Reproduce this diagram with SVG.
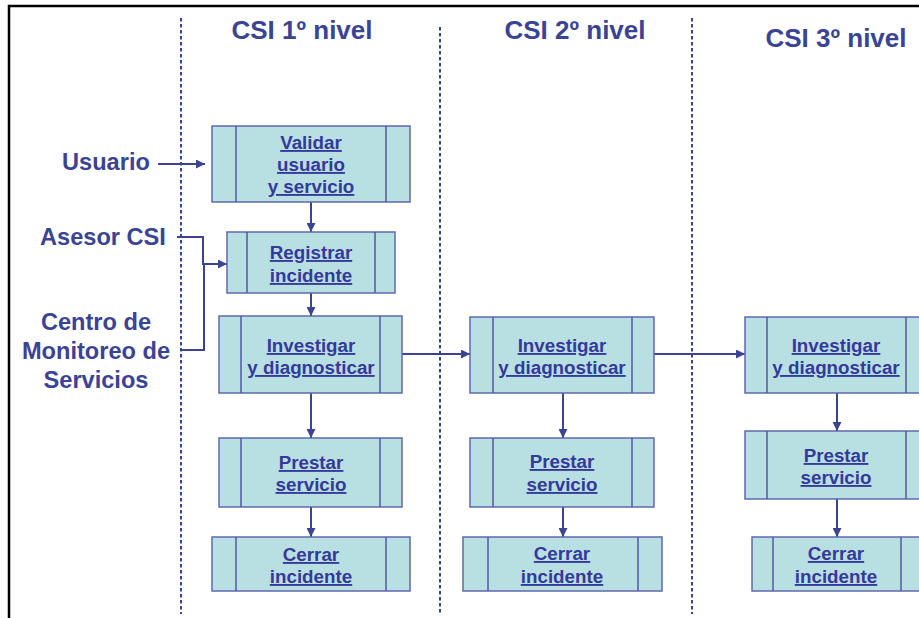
<svg xmlns="http://www.w3.org/2000/svg" width="919" height="618" viewBox="0 0 919 618">
  <defs>
    <marker id="arrow" viewBox="0 0 10 10" refX="10" refY="5" markerWidth="9" markerHeight="9" markerUnits="userSpaceOnUse" orient="auto">
      <path d="M0,0 L10,5 L0,10 Z" fill="#3b4393"/>
    </marker>
    <style>
      .frame { fill: none; stroke: #000; stroke-width: 2.5; }
      .lane { fill: none; stroke: #3b4393; stroke-width: 2; stroke-dasharray: 3.5 2.5; }
      .title { font-family: "Liberation Sans", Arial, sans-serif; font-weight: bold; font-size: 26px; fill: #3b4393; text-anchor: middle; }
      .actor { font-family: "Liberation Sans", Arial, sans-serif; font-weight: bold; font-size: 23.6px; fill: #3b4393; }
      .box { fill: #b8e0e2; stroke: #6068ad; stroke-width: 1.5; }
      .bar { fill: none; stroke: #5058a3; stroke-width: 1.5; }
      .label { font-family: "Liberation Sans", Arial, sans-serif; font-weight: bold; font-size: 18.8px; fill: #35399a; text-anchor: middle; text-decoration: underline; }
      .conn { fill: none; stroke: #3b4393; stroke-width: 2; }
    </style>
  </defs>

  <rect width="919" height="618" fill="#fff"/>

  <!-- outer frame -->
  <path class="frame" d="M9,618 V6 H919"/>

  <!-- swimlane separators -->
  <g id="lanes">
    <line class="lane" x1="181" y1="18" x2="181" y2="614"/>
    <line class="lane" x1="440" y1="27" x2="440" y2="614"/>
    <line class="lane" x1="692" y1="18" x2="692" y2="614"/>
  </g>

  <!-- lane titles -->
  <g id="titles">
    <text class="title" x="302" y="39">CSI 1º nivel</text>
    <text class="title" x="575" y="39">CSI 2º nivel</text>
    <text class="title" x="836" y="47">CSI 3º nivel</text>
  </g>

  <!-- actors -->
  <g id="actor-usuario">
    <text class="actor" x="62" y="170">Usuario</text>
  </g>
  <g id="actor-asesor">
    <text class="actor" x="40" y="245">Asesor CSI</text>
  </g>
  <g id="actor-centro">
    <text class="actor" x="96" y="330" text-anchor="middle">Centro de</text>
    <text class="actor" x="96" y="359" text-anchor="middle">Monitoreo de</text>
    <text class="actor" x="96" y="388" text-anchor="middle">Servicios</text>
  </g>

  <!-- connectors -->
  <g id="connectors">
    <line class="conn" x1="158" y1="164" x2="205" y2="164" marker-end="url(#arrow)"/>
    <path class="conn" d="M177,237 H203 V264 H227" marker-end="url(#arrow)"/>
    <path class="conn" d="M182,350 H204 V264"/>
    <line class="conn" x1="311" y1="202" x2="311" y2="232" marker-end="url(#arrow)"/>
    <line class="conn" x1="311" y1="293" x2="311" y2="316" marker-end="url(#arrow)"/>
    <line class="conn" x1="311" y1="393" x2="311" y2="438" marker-end="url(#arrow)"/>
    <line class="conn" x1="311" y1="507" x2="311" y2="537" marker-end="url(#arrow)"/>
    <line class="conn" x1="402" y1="354" x2="470" y2="354" marker-end="url(#arrow)"/>
    <line class="conn" x1="563" y1="393" x2="563" y2="438" marker-end="url(#arrow)"/>
    <line class="conn" x1="563" y1="507" x2="563" y2="537" marker-end="url(#arrow)"/>
    <line class="conn" x1="654" y1="354" x2="745" y2="354" marker-end="url(#arrow)"/>
    <line class="conn" x1="837" y1="393" x2="837" y2="431" marker-end="url(#arrow)"/>
    <line class="conn" x1="837" y1="499" x2="837" y2="537" marker-end="url(#arrow)"/>
  </g>

  <!-- level 1 -->
  <g id="validar">
    <rect class="box" x="212" y="126" width="198" height="76"/>
    <path class="bar" d="M236,126 V202 M386,126 V202"/>
    <text class="label" x="311" y="149">Validar</text>
    <text class="label" x="311" y="171">usuario</text>
    <text class="label" x="311" y="193">y servicio</text>
  </g>
  <g id="registrar">
    <rect class="box" x="227" y="232" width="168" height="61"/>
    <path class="bar" d="M247,232 V293 M375,232 V293"/>
    <text class="label" x="311" y="259">Registrar</text>
    <text class="label" x="311" y="282">incidente</text>
  </g>
  <g id="investigar-1">
    <rect class="box" x="219" y="316" width="183" height="77"/>
    <path class="bar" d="M241,316 V393 M380,316 V393"/>
    <text class="label" x="311" y="352">Investigar</text>
    <text class="label" x="311" y="374">y diagnosticar</text>
  </g>
  <g id="prestar-1">
    <rect class="box" x="219" y="438" width="183" height="69"/>
    <path class="bar" d="M241,438 V507 M380,438 V507"/>
    <text class="label" x="311" y="469">Prestar</text>
    <text class="label" x="311" y="491">servicio</text>
  </g>
  <g id="cerrar-1">
    <rect class="box" x="212" y="537" width="198" height="54"/>
    <path class="bar" d="M236,537 V591 M386,537 V591"/>
    <text class="label" x="311" y="561">Cerrar</text>
    <text class="label" x="311" y="583">incidente</text>
  </g>

  <!-- level 2 -->
  <g id="investigar-2">
    <rect class="box" x="470" y="317" width="184" height="76"/>
    <path class="bar" d="M493,317 V393 M632,317 V393"/>
    <text class="label" x="562" y="352">Investigar</text>
    <text class="label" x="562" y="374">y diagnosticar</text>
  </g>
  <g id="prestar-2">
    <rect class="box" x="470" y="438" width="184" height="69"/>
    <path class="bar" d="M493,438 V507 M632,438 V507"/>
    <text class="label" x="562" y="468">Prestar</text>
    <text class="label" x="562" y="491">servicio</text>
  </g>
  <g id="cerrar-2">
    <rect class="box" x="463" y="537" width="199" height="54"/>
    <path class="bar" d="M488,537 V591 M638,537 V591"/>
    <text class="label" x="562" y="560">Cerrar</text>
    <text class="label" x="562" y="583">incidente</text>
  </g>

  <!-- level 3 -->
  <g id="investigar-3">
    <rect class="box" x="745" y="317" width="184" height="76"/>
    <path class="bar" d="M767,317 V393 M906,317 V393"/>
    <text class="label" x="836" y="352">Investigar</text>
    <text class="label" x="836" y="374">y diagnosticar</text>
  </g>
  <g id="prestar-3">
    <rect class="box" x="745" y="431" width="184" height="68"/>
    <path class="bar" d="M767,431 V499 M906,431 V499"/>
    <text class="label" x="836" y="462">Prestar</text>
    <text class="label" x="836" y="484">servicio</text>
  </g>
  <g id="cerrar-3">
    <rect class="box" x="752" y="537" width="170" height="54"/>
    <path class="bar" d="M773,537 V591 M901,537 V591"/>
    <text class="label" x="836" y="560">Cerrar</text>
    <text class="label" x="836" y="583">incidente</text>
  </g>
</svg>
